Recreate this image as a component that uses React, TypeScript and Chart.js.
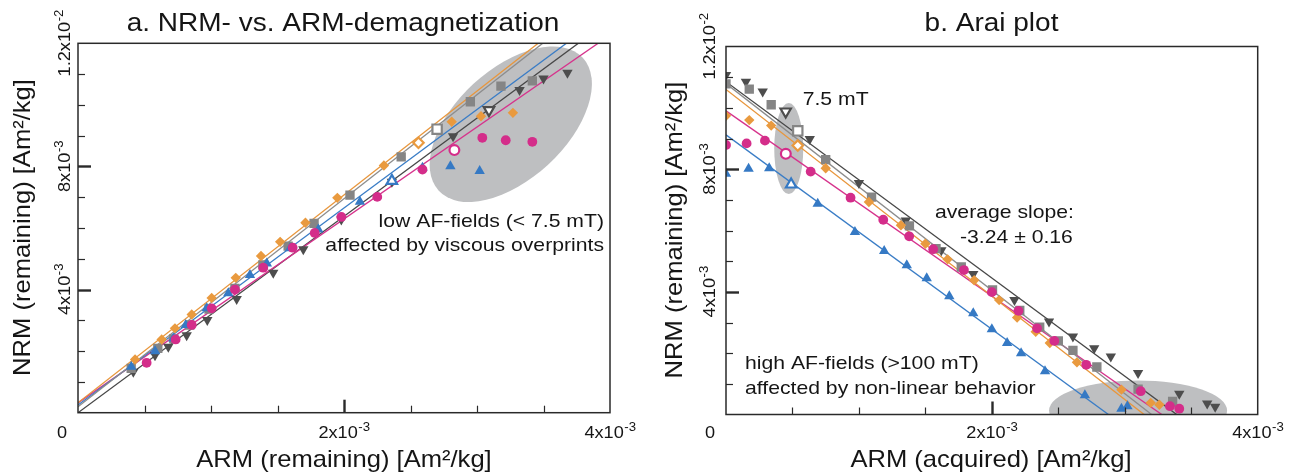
import { useEffect, useRef } from "react";
import { Chart, registerables } from "chart.js";

Chart.register(...registerables);

// Magnetizations are given in units of 1e-3 Am²/kg.
// Index 3 of every series is the 7.5 mT step, drawn with a hollow marker.
const OPEN_STEP = 3;

// ---- a. NRM- vs. ARM-demagnetization (ARM remaining vs. NRM remaining) ----
const demagOrangeArm = [3.27, 3.03, 2.81, 2.56, 2.30, 1.95, 1.71, 1.52, 1.376, 1.186, 1.005, 0.855, 0.729, 0.629, 0.429];
const demagOrangeNrm = [9.74, 9.63, 9.45, 8.77, 8.03, 6.98, 6.17, 5.55, 5.09, 4.38, 3.73, 3.19, 2.74, 2.38, 1.73];

const demagGrayArm = [3.416, 3.18, 2.95, 2.70, 2.43, 2.045, 1.775, 1.58, 1.39, 1.18, 0.985, 0.84, 0.72, 0.60, 0.40];
const demagGrayNrm = [10.78, 10.61, 10.10, 9.21, 8.31, 7.07, 6.15, 5.41, 4.80, 4.04, 3.37, 2.85, 2.40, 2.09, 1.44];

const demagBlueArm = [3.02, 2.80, 2.59, 2.36, 2.12, 1.807, 1.594, 1.42, 1.293, 1.13, 0.968, 0.81, 0.717, 0.58, 0.40];
const demagBlueNrm = [7.85, 8.01, 7.96, 7.53, 6.85, 5.95, 5.34, 4.85, 4.47, 3.88, 3.39, 2.85, 2.41, 2.00, 1.49];

const demagMagentaArm = [3.416, 3.216, 3.04, 2.83, 2.59, 2.25, 1.98, 1.78, 1.614, 1.393, 1.18, 1.005, 0.855, 0.734, 0.516];
const demagMagentaNrm = [8.80, 8.85, 8.93, 8.53, 7.90, 7.01, 6.36, 5.84, 5.36, 4.71, 4.00, 3.39, 2.85, 2.38, 1.62];

const demagDarkArm = [3.68, 3.50, 3.32, 3.09, 2.82, 2.36, 1.98, 1.694, 1.468, 1.193, 0.972, 0.817, 0.679, 0.579, 0.416];
const demagDarkNrm = [11.04, 10.86, 10.48, 9.83, 8.98, 7.50, 6.28, 5.31, 4.55, 3.69, 3.01, 2.52, 2.14, 1.87, 1.33];

// Fits (NRM = slope * ARM + intercept), order: orange, gray, blue, magenta, dark
const demagFitSlopes = [3.376, 3.38, 3.2, 2.987, 3.19];
const demagFitIntercepts = [0.32, 0.19, 0.25, 0.32, 0.0];

// ---- b. Arai plot (ARM acquired vs. NRM remaining) ----
const araiOrangeArm = [0, 0.175, 0.34, 0.54, 0.75, 1.075, 1.316, 1.50, 1.667, 1.867, 2.055, 2.19, 2.33, 2.436, 2.64, 2.975, 3.195, 3.26];
const araiOrangeNrm = [9.74, 9.60, 9.42, 8.77, 8.03, 6.93, 6.17, 5.57, 5.06, 4.38, 3.73, 3.16, 2.70, 2.33, 1.70, 0.81, 0.38, 0.32];

const araiGrayArm = [0, 0.175, 0.34, 0.54, 0.75, 1.095, 1.38, 1.58, 1.77, 2.005, 2.21, 2.36, 2.50, 2.61, 2.79, 3.10, 3.36];
const araiGrayNrm = [10.78, 10.61, 10.10, 9.25, 8.31, 7.09, 6.15, 5.41, 4.81, 4.06, 3.39, 2.85, 2.40, 2.09, 1.55, 0.83, 0.43];

const araiBlueArm = [0, 0.17, 0.325, 0.49, 0.69, 0.97, 1.19, 1.36, 1.51, 1.68, 1.86, 2.0, 2.115, 2.22, 2.40, 2.70, 2.975, 3.02];
const araiBlueNrm = [7.85, 8.01, 8.03, 7.50, 6.87, 5.95, 5.33, 4.87, 4.44, 3.86, 3.30, 2.78, 2.33, 2.00, 1.41, 0.63, 0.19, 0.27];

const araiMagentaArm = [0, 0.155, 0.293, 0.45, 0.637, 0.937, 1.183, 1.378, 1.559, 1.79, 2.0, 2.20, 2.34, 2.47, 2.71, 3.12, 3.34, 3.41];
const araiMagentaNrm = [8.79, 8.84, 8.93, 8.50, 7.92, 7.07, 6.35, 5.81, 5.39, 4.71, 3.99, 3.38, 2.81, 2.40, 1.62, 0.76, 0.27, 0.19];

const araiDarkArm = [0, 0.15, 0.276, 0.449, 0.63, 1.0, 1.353, 1.62, 1.86, 2.17, 2.43, 2.61, 2.77, 2.895, 3.10, 3.41, 3.62, 3.68];
const araiDarkNrm = [11.07, 10.85, 10.53, 9.88, 8.98, 7.55, 6.33, 5.36, 4.58, 3.73, 3.03, 2.54, 2.16, 1.89, 1.35, 0.68, 0.36, 0.25];

const araiFitSlopes = [-3.37, -3.37, -3.17, -3.02, -3.20];
const araiFitIntercepts = [10.6, 10.79, 9.12, 9.90, 10.85];

// Axis ticks (1e-3 Am²/kg)
const xTickValues = [0.5, 1, 1.5, 2, 2.5, 3, 3.5];
const xMajorTicks = [2];
const yTickValues = [1, 2, 3, 4, 5, 6, 7, 8, 9, 10, 11];
const yMajorTicks = [4, 8];
const xTickLabels = [
  { value: 2, base: "2x10", exp: "-3" },
  { value: 4, base: "4x10", exp: "-3" },
];
const yTickLabels = [
  { value: 4, base: "4x10", exp: "-3" },
  { value: 8, base: "8x10", exp: "-3" },
  { value: 12, base: "1.2x10", exp: "-2" },
];

// ---- styling ----
type SeriesStyle = {
  color: string;
  lineColor: string;
  pointStyle: string;
  radius: number;
  rotation: number;
};

const ORANGE: SeriesStyle = { color: "#E99A3F", lineColor: "#E8963C", pointStyle: "rectRot", radius: 5.2, rotation: 0 };
const GRAY: SeriesStyle = { color: "#858585", lineColor: "#8C8C8C", pointStyle: "rect", radius: 6.6, rotation: 0 };
const BLUE: SeriesStyle = { color: "#3579C4", lineColor: "#3A7DC6", pointStyle: "triangle", radius: 6, rotation: 0 };
const MAGENTA: SeriesStyle = { color: "#D42D8A", lineColor: "#D6338C", pointStyle: "circle", radius: 4.9, rotation: 0 };
const DARK: SeriesStyle = { color: "#4D4D4D", lineColor: "#474747", pointStyle: "triangle", radius: 6, rotation: 180 };

const FIT_STYLES = [ORANGE, GRAY, BLUE, MAGENTA, DARK];

const FONT = '"Liberation Sans", Arial, Helvetica, sans-serif';
const INK = "#151515";
const FRAME = "#2a2a2a";
const ELLIPSE_FILL = "#BEBFC1";

function pointDataset(xs: number[], ys: number[], style: SeriesStyle) {
  return {
    data: xs.map((x, i) => ({ x, y: ys[i] })),
    showLine: false,
    pointStyle: style.pointStyle,
    pointRotation: style.rotation,
    pointRadius: style.radius,
    pointHoverRadius: style.radius,
    pointBackgroundColor: xs.map((_, i) => (i === OPEN_STEP ? "#ffffff" : style.color)),
    pointBorderColor: style.color,
    pointBorderWidth: xs.map((_, i) => (i === OPEN_STEP ? 2.2 : 0)),
  };
}

function fitDataset(slope: number, intercept: number, style: SeriesStyle) {
  return {
    data: [
      { x: 0, y: intercept },
      { x: 4, y: intercept + 4 * slope },
    ],
    showLine: true,
    pointRadius: 0,
    borderColor: style.lineColor,
    borderWidth: 1.3,
    fill: false,
  };
}

function drawText(
  ctx: CanvasRenderingContext2D,
  text: string,
  x: number,
  y: number,
  size: number,
  align: CanvasTextAlign,
  stretch: number,
  rotated = false
) {
  ctx.save();
  ctx.translate(x, y);
  if (rotated) ctx.rotate(-Math.PI / 2);
  ctx.scale(stretch, 1);
  ctx.font = `${size}px ${FONT}`;
  ctx.textAlign = align;
  ctx.textBaseline = "alphabetic";
  ctx.fillStyle = INK;
  ctx.fillText(text, 0, 0);
  ctx.restore();
}

function drawSci(ctx: CanvasRenderingContext2D, base: string, exp: string, x: number, y: number, rotated: boolean) {
  ctx.save();
  ctx.translate(x, y);
  if (rotated) ctx.rotate(-Math.PI / 2);
  ctx.scale(1.1, 1);
  ctx.fillStyle = INK;
  ctx.textAlign = "left";
  ctx.textBaseline = "alphabetic";
  ctx.font = `16.5px ${FONT}`;
  const wb = ctx.measureText(base).width;
  ctx.font = `12px ${FONT}`;
  const we = ctx.measureText(exp).width;
  const start = -(wb + we) / 2;
  ctx.font = `16.5px ${FONT}`;
  ctx.fillText(base, start, 0);
  ctx.font = `12px ${FONT}`;
  ctx.fillText(exp, start + wb + 0.5, -7.5);
  ctx.restore();
}

type Ellipse = { cx: number; cy: number; rx: number; ry: number; angle: number };
type Note = { text: string; x: number; y: number; align: CanvasTextAlign; size: number };

type PanelConfig = {
  padding: { left: number; top: number; right: number; bottom: number };
  title: { text: string; x: number; y: number };
  xTitle: { text: string; x: number; y: number };
  yTitle: { text: string; x: number; y: number };
  yLabelGap: number;
  ellipses: Ellipse[];
  notes: Note[];
  datasets: any[];
};

function makePanelPlugin(cfg: PanelConfig) {
  return {
    id: "panelDecor",
    beforeDatasetsDraw(chart: any) {
      const { ctx, chartArea, scales } = chart;
      ctx.save();
      ctx.beginPath();
      ctx.rect(chartArea.left, chartArea.top, chartArea.right - chartArea.left, chartArea.bottom - chartArea.top);
      ctx.clip();
      ctx.fillStyle = ELLIPSE_FILL;
      for (const e of cfg.ellipses) {
        const px = scales.x.getPixelForValue(e.cx);
        const py = scales.y.getPixelForValue(e.cy);
        ctx.beginPath();
        ctx.ellipse(px, py, e.rx, e.ry, (e.angle * Math.PI) / 180, 0, Math.PI * 2);
        ctx.fill();
      }
      ctx.restore();
    },
    afterDraw(chart: any) {
      const { ctx, chartArea, scales } = chart;
      const { left, right, top, bottom } = chartArea;
      ctx.save();
      // ticks pointing into the plot
      ctx.strokeStyle = FRAME;
      for (const v of xTickValues) {
        const major = xMajorTicks.includes(v);
        const px = Math.round(scales.x.getPixelForValue(v)) + 0.5;
        ctx.lineWidth = major ? 2.4 : 1.2;
        ctx.beginPath();
        ctx.moveTo(px, bottom);
        ctx.lineTo(px, bottom - (major ? 13 : 7));
        ctx.stroke();
      }
      for (const v of yTickValues) {
        const major = yMajorTicks.includes(v);
        const py = Math.round(scales.y.getPixelForValue(v)) + 0.5;
        ctx.lineWidth = major ? 2.4 : 1.2;
        ctx.beginPath();
        ctx.moveTo(left, py);
        ctx.lineTo(left + (major ? 13 : 7), py);
        ctx.stroke();
      }
      // frame
      ctx.lineWidth = 1.5;
      ctx.strokeRect(left, top, right - left, bottom - top);
      ctx.restore();

      // tick labels
      drawText(ctx, "0", left - 16, 438, 16.5, "center", 1.1);
      for (const t of xTickLabels) {
        drawSci(ctx, t.base, t.exp, scales.x.getPixelForValue(t.value), 438, false);
      }
      for (const t of yTickLabels) {
        drawSci(ctx, t.base, t.exp, left - cfg.yLabelGap, scales.y.getPixelForValue(t.value), true);
      }

      // titles
      drawText(ctx, cfg.title.text, cfg.title.x, cfg.title.y, 25, "center", 1.12);
      drawText(ctx, cfg.xTitle.text, cfg.xTitle.x, cfg.xTitle.y, 24, "center", 1.065);
      drawText(ctx, cfg.yTitle.text, cfg.yTitle.x, cfg.yTitle.y, 24, "center", 1.065, true);

      for (const n of cfg.notes) {
        drawText(ctx, n.text, n.x, n.y, n.size, n.align, 1.145);
      }
    },
  };
}

function Panel({ cfg, left }: { cfg: PanelConfig; left: number }) {
  const ref = useRef<HTMLCanvasElement>(null);
  useEffect(() => {
    if (!ref.current) return;
    const chart = new Chart(ref.current, {
      type: "scatter",
      data: { datasets: cfg.datasets },
      options: {
        responsive: false,
        animation: false,
        devicePixelRatio: 1,
        events: [],
        layout: { padding: cfg.padding },
        scales: {
          x: { type: "linear", min: 0, max: 4, display: false },
          y: { type: "linear", min: 0, max: 12, display: false },
        },
        plugins: {
          legend: { display: false },
          tooltip: { enabled: false },
          title: { display: false },
        },
      } as any,
      plugins: [makePanelPlugin(cfg)],
    });
    return () => chart.destroy();
  }, [cfg]);
  return (
    <canvas
      ref={ref}
      width={649}
      height={475}
      style={{ position: "absolute", left, top: 0, width: 649, height: 475, display: "block" }}
    />
  );
}

const demagPanel: PanelConfig = {
  padding: { left: 78, top: 43.3, right: 39, bottom: 62.3 },
  title: { text: "a. NRM- vs. ARM-demagnetization", x: 343, y: 30.7 },
  xTitle: { text: "ARM (remaining) [Am²/kg]", x: 344, y: 467 },
  yTitle: { text: "NRM (remaining) [Am²/kg]", x: 30, y: 227.5 },
  yLabelGap: 8,
  ellipses: [{ cx: 3.254, cy: 9.37, rx: 98, ry: 55, angle: -42.7 }],
  notes: [
    { text: "low AF-fields (< 7.5 mT)", x: 604, y: 226.7, align: "right", size: 18.5 },
    { text: "affected by viscous overprints", x: 604, y: 251, align: "right", size: 18.5 },
  ],
  datasets: [
    pointDataset(demagMagentaArm, demagMagentaNrm, MAGENTA),
    pointDataset(demagBlueArm, demagBlueNrm, BLUE),
    pointDataset(demagOrangeArm, demagOrangeNrm, ORANGE),
    pointDataset(demagGrayArm, demagGrayNrm, GRAY),
    pointDataset(demagDarkArm, demagDarkNrm, DARK),
    ...FIT_STYLES.map((s, i) => fitDataset(demagFitSlopes[i], demagFitIntercepts[i], s)),
  ],
};

const araiPanel: PanelConfig = {
  padding: { left: 77, top: 46.5, right: 40.3, bottom: 60.5 },
  title: { text: "b. Arai plot", x: 342.5, y: 30.7 },
  xTitle: { text: "ARM (acquired) [Am²/kg]", x: 342, y: 467 },
  yTitle: { text: "NRM (remaining) [Am²/kg]", x: 32.7, y: 230 },
  yLabelGap: 11,
  ellipses: [
    { cx: 0.472, cy: 8.67, rx: 14.5, ry: 45.5, angle: 0 },
    { cx: 3.1, cy: 0.13, rx: 89, ry: 30, angle: 0 },
  ],
  notes: [
    { text: "7.5 mT", x: 153.7, y: 105, align: "left", size: 18.5 },
    { text: "average slope:", x: 286, y: 218, align: "left", size: 18.5 },
    { text: "-3.24 ± 0.16", x: 311, y: 242.7, align: "left", size: 18.5 },
    { text: "high AF-fields (>100 mT)", x: 96, y: 369, align: "left", size: 18.5 },
    { text: "affected by non-linear behavior", x: 96, y: 393.5, align: "left", size: 18.5 },
  ],
  datasets: [
    pointDataset(araiMagentaArm, araiMagentaNrm, MAGENTA),
    pointDataset(araiBlueArm, araiBlueNrm, BLUE),
    pointDataset(araiOrangeArm, araiOrangeNrm, ORANGE),
    pointDataset(araiGrayArm, araiGrayNrm, GRAY),
    pointDataset(araiDarkArm, araiDarkNrm, DARK),
    ...FIT_STYLES.map((s, i) => fitDataset(araiFitSlopes[i], araiFitIntercepts[i], s)),
  ],
};

export default function App() {
  return (
    <div style={{ position: "absolute", left: 0, top: 0, width: 1298, height: 475, background: "#ffffff" }}>
      <Panel cfg={demagPanel} left={0} />
      <Panel cfg={araiPanel} left={649} />
    </div>
  );
}
